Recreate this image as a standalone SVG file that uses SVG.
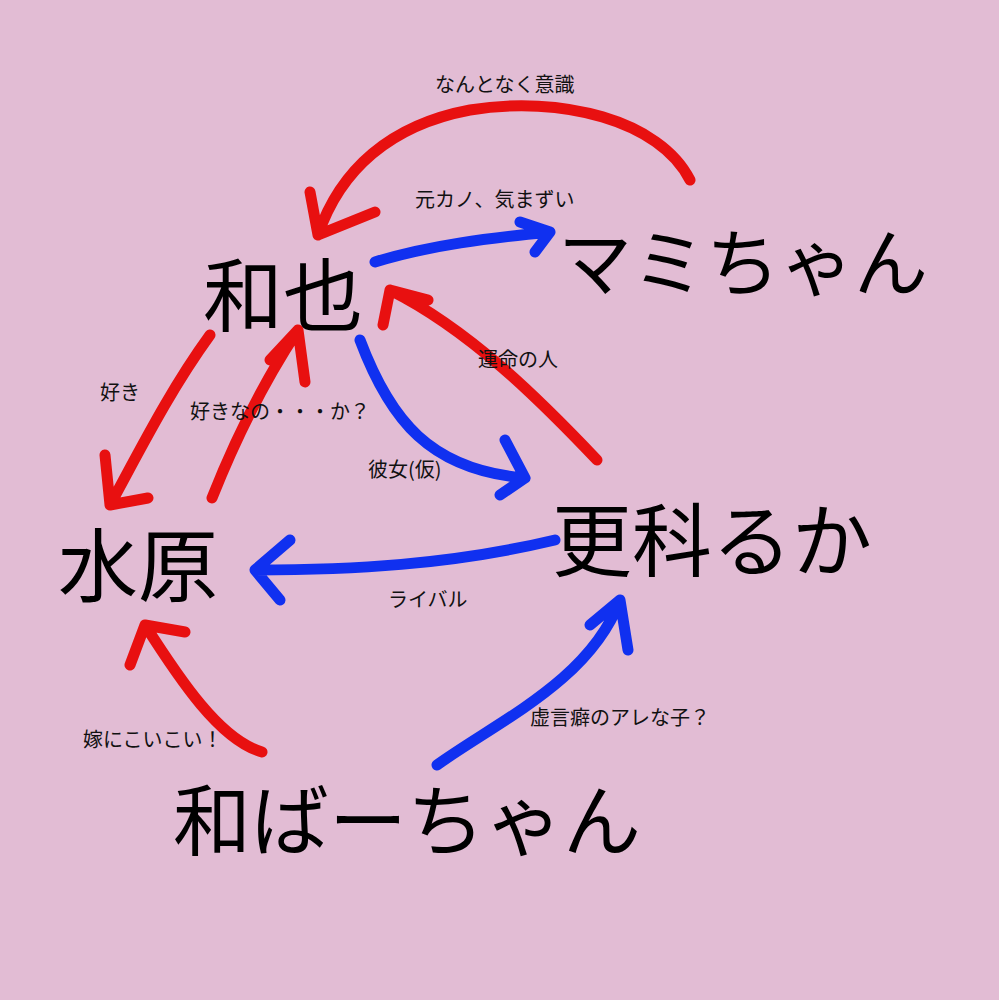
<svg xmlns="http://www.w3.org/2000/svg" width="999" height="1000" viewBox="0 0 999 1000">
<style>
.n{font-family:"Noto Sans CJK JP","Noto Sans",sans-serif;fill:#000}
.l{font-family:"Noto Sans CJK JP","Noto Sans",sans-serif;font-size:20px;fill:#111}
.r{stroke:#e81010;stroke-width:11;fill:none;stroke-linecap:round;stroke-linejoin:round}
.b{stroke:#1030f0;stroke-width:11;fill:none;stroke-linecap:round;stroke-linejoin:round}
</style>
<rect width="999" height="1000" fill="#e2bcd4"/>
<g id="connectors">
<path class="r" d="M690,180 C660,120 560,95 470,110 C390,125 340,170 318,235 M310,192 L318,235 L375,212"/>
<path class="b" d="M375,262 C430,245 490,238 550,232 M520,222 L550,232 L535,252"/>
<path class="r" d="M597,460 C540,400 470,330 390,290 M383,325 L390,290 L428,300"/>
<path class="b" d="M360,340 C390,420 430,470 525,478 M505,440 L525,478 L500,495"/>
<path class="r" d="M210,335 C170,390 140,450 110,505 M105,455 L110,505 L148,498"/>
<path class="r" d="M212,498 C235,440 265,380 298,330 M270,360 L298,330 L305,382"/>
<path class="b" d="M555,540 C450,565 350,570 255,570 M290,540 L255,570 L280,600"/>
<path class="r" d="M262,752 C220,740 180,680 145,625 M130,665 L145,625 L185,632"/>
<path class="b" d="M437,765 C500,720 590,680 620,600 M590,625 L620,600 L628,650"/>
</g>
<g id="kazuya"><text class="n" x="203" y="325" font-size="80">和也</text></g>
<g id="mami"><text class="n" x="558" y="290" font-size="74">マミちゃん</text></g>
<g id="mizuhara"><text class="n" x="58" y="595" font-size="80">水原</text></g>
<g id="sarashina"><text class="n" x="552" y="570" font-size="80">更科るか</text></g>
<g id="kazubaachan"><text class="n" x="173" y="850" font-size="78">和ばーちゃん</text></g>
<g id="labels">
<text class="l" x="435" y="92">なんとなく意識</text>
<text class="l" x="415" y="207">元カノ、気まずい</text>
<text class="l" x="478" y="367">運命の人</text>
<text class="l" x="100" y="400">好き</text>
<text class="l" x="190" y="419">好きなの・・・か？</text>
<text class="l" x="368" y="477">彼女(仮)</text>
<text class="l" x="388" y="607">ライバル</text>
<text class="l" x="83" y="747">嫁にこいこい！</text>
<text class="l" x="530" y="725">虚言癖のアレな子？</text>
</g>
</svg>
